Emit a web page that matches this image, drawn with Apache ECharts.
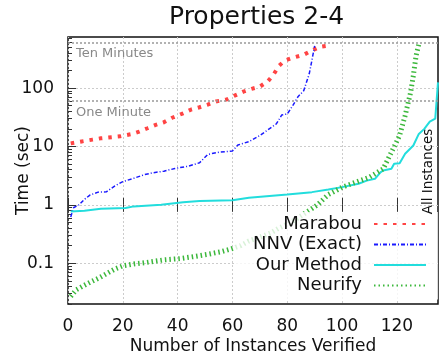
<!DOCTYPE html>
<html>
<head>
<meta charset="utf-8">
<script src="https://cdn.jsdelivr.net/npm/echarts@6/dist/echarts.min.js"></script>
<style>
  html, body { margin: 0; padding: 0; background: #fff; }
  #chart { width: 440px; height: 358px; }
</style>
</head>
<body>
<div id="chart"></div>
<script>
// [instances verified, time in seconds]
const marabou = [[1, 11.3], [5, 12.2], [9, 13.1], [12, 13.8], [16, 14.4], [19, 14.9], [23, 16.2], [26, 18], [29, 20.5], [32, 23.4], [35, 26], [38, 31], [42, 37], [45, 43], [48, 47], [51, 52], [54, 59], [58, 64], [61, 75], [64, 87], [67, 97], [70, 106], [73, 132], [75, 171], [77, 241], [79, 294], [82, 330], [86, 372], [89, 441], [92, 510], [95, 535]];
const nnv = [[1, 0.62], [2, 0.89], [4, 1.0], [6, 1.24], [8, 1.47], [11, 1.65], [14, 1.67], [17, 2.09], [20, 2.5], [24, 2.85], [28, 3.3], [31, 3.54], [35, 3.77], [39, 4.19], [44, 4.6], [48, 5.25], [51, 7.3], [55, 7.96], [60, 8.35], [62, 10.6], [66, 12.1], [70, 15.4], [73, 19.4], [76, 24.3], [78, 34.7], [80, 36], [82, 50], [84, 72], [86, 90], [88, 174], [89, 300], [90, 530]];
const ourMethod = [[1, 0.77], [6, 0.79], [12, 0.86], [21, 0.88], [24, 0.94], [34, 1.0], [42, 1.11], [48, 1.16], [60, 1.2], [66, 1.32], [80, 1.5], [89, 1.65], [95, 1.83], [100, 2.01], [106, 2.3], [109, 2.6], [112, 2.79], [114, 3.6], [115, 3.87], [118, 4.14], [119, 5.05], [121, 5.17], [123, 7.5], [126, 10.4], [128, 16.4], [130, 20], [132, 26.7], [134, 30], [135, 125]];
const neurify = [[1, 0.027], [3, 0.035], [6, 0.042], [8, 0.047], [11, 0.055], [13, 0.062], [17, 0.079], [20, 0.09], [24, 0.097], [28, 0.102], [35, 0.114], [41, 0.12], [46, 0.13], [51, 0.142], [56, 0.158], [59, 0.173], [63, 0.2], [66, 0.24], [70, 0.28], [74, 0.33], [77, 0.4], [81, 0.49], [84, 0.6], [88, 0.8], [91, 1.0], [95, 1.5], [100, 2.0], [105, 2.44], [110, 2.97], [115, 4.14], [118, 7.96], [121, 15.4], [123, 33.7], [125, 84], [126, 163], [127, 358], [128, 567]];

const seriesNames = ['Marabou', 'NNV (Exact)', 'Our Method', 'Neurify'];
const xTicks = [0, 20, 40, 60, 80, 100, 120];
const yTicks = [0.1, 1, 10, 100];
const timeLimits = [['Ten Minutes', 600], ['One Minute', 60]];
const xMin = 0, xMax = 135;
const yMin = 0.02, yMax = 750;

const lg = v => Math.log10(v);
const toLog = arr => arr.map(p => [p[0], lg(p[1])]);
const yMajor = yTicks.map(lg);
const yMinor = [];
for (let d = -2; d <= 2; d++) {
  for (let k = 2; k <= 9; k++) {
    const v = k * Math.pow(10, d);
    if (v >= yMin && v <= yMax) yMinor.push(lg(v));
  }
}
const fmtY = v => String(+Math.pow(10, Math.round(v)).toPrecision(1));

const font = 'DejaVu Sans';
const chart = echarts.init(document.getElementById('chart'));
chart.setOption({
  animation: false,
  backgroundColor: '#fff',
  textStyle: { fontFamily: font },
  title: {
    text: 'Properties 2-4',
    left: 164, top: 0,
    textStyle: { fontSize: 25, fontWeight: 'normal', color: '#111', fontFamily: font }
  },
  grid: {
    left: 68, right: 2, top: 37, bottom: 54,
    outerBoundsMode: 'none', containLabel: false,
    show: true, borderColor: '#111', borderWidth: 1.5, backgroundColor: 'transparent'
  },
  legend: {
    orient: 'vertical', right: 2, top: 212, align: 'right',
    itemWidth: 52, itemHeight: 10, itemGap: 0.5,
    backgroundColor: 'rgba(255,255,255,0.8)',
    padding: [2, 11, 4, 18],
    itemStyle: { opacity: 0 },
    textStyle: { fontSize: 18, color: '#111', lineHeight: 20, padding: [0, 7, 0, 0], fontFamily: font },
    data: seriesNames
  },
  xAxis: [
    {
      type: 'value', position: 'bottom', min: xMin, max: xMax,
      name: 'Number of Instances Verified', nameLocation: 'middle', nameGap: 34, nameMoveOverlap: false,
      nameTextStyle: { fontSize: 17, color: '#111', fontFamily: font },
      axisLine: { show: false },
      axisTick: { inside: true, length: 7, customValues: xTicks, lineStyle: { color: '#333' } },
      axisLabel: { customValues: xTicks, fontSize: 17, color: '#111', margin: 14, fontFamily: font },
      splitLine: { show: true, lineStyle: { color: '#ccc', type: [2, 2] } }
    },
    {
      type: 'value', position: 'top', min: xMin, max: xMax,
      axisLine: { show: false },
      axisTick: { inside: true, length: 7, customValues: xTicks, lineStyle: { color: '#333' } },
      axisLabel: { show: false },
      splitLine: { show: false }
    }
  ],
  yAxis: [
    {
      type: 'value', position: 'left', min: lg(yMin), max: lg(yMax),
      name: 'Time (sec)', nameLocation: 'middle', nameGap: 36, nameMoveOverlap: false,
      nameTextStyle: { fontSize: 17, color: '#111', fontFamily: font },
      axisLine: { show: false },
      axisTick: { inside: true, length: 8, customValues: yMajor, lineStyle: { color: '#333' } },
      axisLabel: { customValues: yMajor, formatter: fmtY, fontSize: 17, color: '#111', margin: 14, fontFamily: font },
      splitLine: { show: true, lineStyle: { color: '#ccc', type: [2, 2] } }
    },
    {
      type: 'value', position: 'left', min: lg(yMin), max: lg(yMax),
      axisLine: { show: false },
      axisTick: { inside: true, length: 4, customValues: yMinor, lineStyle: { color: '#333' } },
      axisLabel: { show: false },
      splitLine: { show: false }
    }
  ],
  series: [
    {
      name: 'Marabou', type: 'line', symbol: 'none',
      data: toLog(marabou),
      color: '#ff4444',
      lineStyle: { width: 4, type: [3.5, 6], cap: 'butt' },
      markLine: {
        silent: true, symbol: 'none',
        lineStyle: { color: '#999', width: 1.5, type: [2, 2] },
        label: { position: 'insideStartBottom', formatter: '{b}', color: '#888', fontSize: 13, padding: [0, 0, 0, 3], fontFamily: font },
        data: timeLimits.map(t => ({ name: t[0], yAxis: lg(t[1]) }))
      }
    },
    {
      name: 'NNV (Exact)', type: 'line', symbol: 'none',
      data: toLog(nnv),
      color: '#1a1aff',
      lineStyle: { width: 1.5, type: [4, 2, 1, 2] }
    },
    {
      name: 'Our Method', type: 'line', symbol: 'none',
      data: toLog(ourMethod),
      color: '#22dddd',
      lineStyle: { width: 2 },
      markPoint: {
        silent: true, symbol: 'circle', symbolSize: 0,
        data: [{ coord: [131.4, lg(3.72)] }],
        label: { show: true, position: 'inside', rotate: 90, formatter: 'All Instances', fontSize: 13.5, color: '#111', fontFamily: font }
      }
    },
    {
      name: 'Neurify', type: 'line', symbol: 'none',
      data: toLog(neurify),
      color: '#3cb83c',
      lineStyle: { width: 5, type: [1.5, 3], cap: 'butt' }
    }
  ]
});
</script>
</body>
</html>
